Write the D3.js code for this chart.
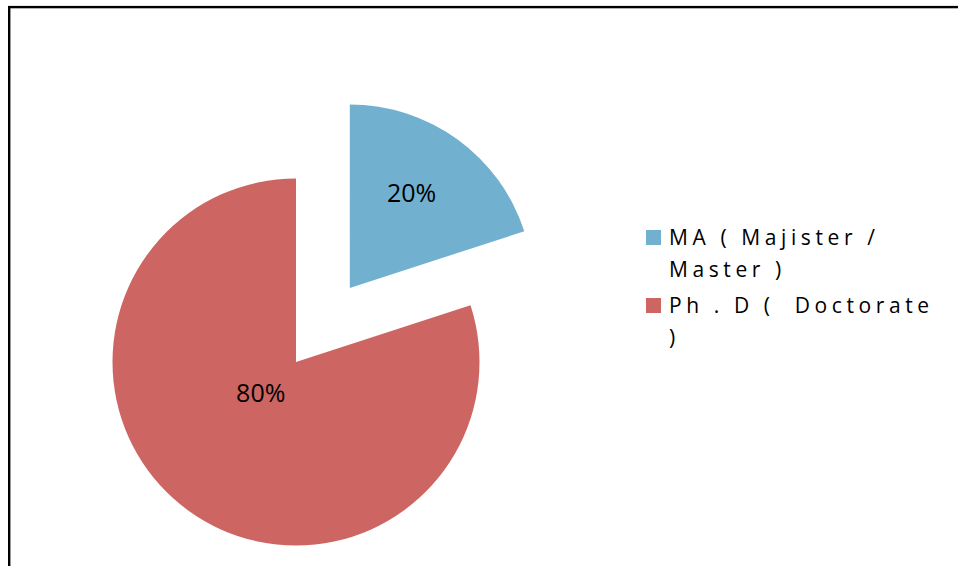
<!DOCTYPE html>
<html>
<head>
<meta charset="utf-8">
<script src="https://cdn.jsdelivr.net/npm/d3@7"></script>
<style>
  html, body { margin: 0; padding: 0; background: #fff; }
  svg { display: block; }
</style>
</head>
<body>
<svg id="chart" width="958" height="566"></svg>
<script>
const categories = ["MA ( Majister / Master )", "Ph . D ( Doctorate )"];
const values = [20, 80];
const percentLabels = ["20%", "80%"];
const legendLines = [["MA ( Majister /", "Master )"], ["Ph . D (  Doctorate", ")"]];
const colors = ["#72B0D0", "#CD6562"];

const svg = d3.select("#chart");

// outer frame (extends beyond viewport on right and bottom)
svg.append("rect")
  .attr("x", 9.2).attr("y", 7.1)
  .attr("width", 1200).attr("height", 1200)
  .attr("fill", "none").attr("stroke", "#000").attr("stroke-width", 2.4);

const cx = 296, cy = 362, r = 183.5;
const explode = [91.5, 0];

const pie = d3.pie().sort(null).value(d => d)(values);
const arc = d3.arc().innerRadius(0).outerRadius(r);

const g = svg.append("g").attr("transform", `translate(${cx},${cy})`);

const slices = g.selectAll("g.slice").data(pie).enter().append("g")
  .attr("class", "slice")
  .attr("transform", (d, i) => {
    const a = (d.startAngle + d.endAngle) / 2;
    const e = explode[i];
    return `translate(${e * Math.sin(a)},${-e * Math.cos(a)})`;
  });

slices.append("path")
  .attr("d", arc)
  .attr("fill", (d, i) => colors[i]);

// data labels: angle offset (radians) and distance from slice apex
const labelPlace = [{da: -0.05, dist: 113}, {da: 0.22, dist: 47}];
slices.append("text")
  .attr("x", (d, i) => {
    const a = (d.startAngle + d.endAngle) / 2 + labelPlace[i].da;
    return labelPlace[i].dist * Math.sin(a);
  })
  .attr("y", (d, i) => {
    const a = (d.startAngle + d.endAngle) / 2 + labelPlace[i].da;
    return -labelPlace[i].dist * Math.cos(a);
  })
  .attr("dy", "0.36em")
  .attr("text-anchor", "middle")
  .attr("font-family", "'Open Sans', sans-serif")
  .attr("font-size", 25)
  .attr("fill", "#000")
  .text((d, i) => percentLabels[i]);

// legend
const legend = svg.append("g").attr("transform", "translate(646,230)");
const item = legend.selectAll("g.item").data(categories).enter().append("g")
  .attr("class", "item")
  .attr("transform", (d, i) => `translate(0,${i * 68})`);
item.append("rect")
  .attr("x", 0).attr("y", 0).attr("width", 15).attr("height", 15)
  .attr("fill", (d, i) => colors[i]);
item.each(function(d, i) {
  const t = d3.select(this).append("text")
    .attr("font-family", "'Open Sans', sans-serif")
    .attr("font-size", 21)
    .attr("letter-spacing", 4.6)
    .attr("fill", "#000")
    .attr("xml:space", "preserve")
    .style("white-space", "pre");
  legendLines[i].forEach((line, j) => {
    t.append("tspan").attr("x", 23).attr("y", 15 + j * 32).text(line);
  });
});
</script>
</body>
</html>
